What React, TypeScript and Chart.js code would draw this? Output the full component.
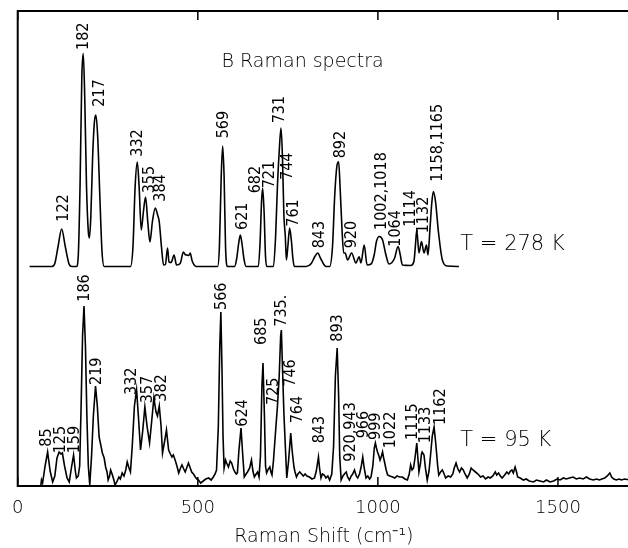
import React, { useEffect, useRef } from "react";
import { Chart, registerables } from "chart.js";

Chart.register(...registerables);

// ---------- data ----------
const xTickValues = [0, 500, 1000, 1500];

// T = 278 K spectrum (intensity above its own baseline)
const upperShift = [
  33, 95, 103, 112, 122, 132, 142, 150, 163, 168, 173, 178, 182, 186, 191, 196, 199, 203, 208, 213, 217, 222, 228, 234, 240,
  313, 320, 326, 332, 337, 343, 349, 355, 361, 367, 374, 382, 388, 393, 399, 405, 410, 416, 420, 426, 434, 441, 451, 460, 465,
  470, 475, 479, 484, 490, 496, 555, 560, 565, 569, 573, 577, 582, 602, 608, 613, 618, 623, 628, 634, 668, 673, 677, 680, 684,
  688, 692, 710, 716, 721, 726, 731, 735, 739, 743, 746, 750, 755, 760, 764, 768, 801, 815, 825, 833, 841, 850, 856, 866, 874,
  880, 886, 891, 895, 900, 905, 909, 916, 927, 939, 948, 953, 962, 970, 981, 990, 996, 1004, 1013, 1022, 1031, 1046, 1056, 1062,
  1068, 1091, 1100, 1104, 1108, 1114, 1121, 1128, 1135, 1139, 1145, 1150, 1154, 1160, 1168, 1179, 1193, 1225,
];
const upperIntensity = [
  0, 0, 3, 20, 37.5, 20, 3, 0, 0, 10, 80, 190, 213, 170, 80, 35, 28.5, 50, 110, 145, 151.5, 130, 70, 15, 0,
  0, 20, 80, 104.5, 80, 36.5, 55, 69.5, 45, 24.5, 45, 58.5, 52, 44.5, 20, 1.5, 2, 18.5, 4.5, 4, 11.5, 1.5, 3, 14.5, 12,
  11.5, 11, 13.5, 6, 1.5, 0, 0, 20, 90, 120.5, 90, 20, 0, 0, 8, 22, 31.5, 22, 8, 0, 0, 25, 65, 78.5, 55,
  10, 0, 0, 30, 79.5, 115, 138.5, 110, 51.5, 30, 6.5, 20, 38.5, 25, 8, 0, 0, 3, 10, 13.5, 8, 2, 0, 0, 20,
  70, 100, 104.8, 80, 40, 13.5, 13.5, 6.5, 13.5, 3.5, 9.8, 3.5, 21.5, 1.5, 2.5, 12, 25, 30, 26.5, 12, 2.5, 8, 20, 12,
  1.5, 1, 5, 20, 36.5, 13.5, 25, 13.5, 21.5, 11.5, 40, 65, 75, 65, 35, 6.5, 0.5, 0,
];
const upperOffset = 219.5;

// T = 95 K spectrum
const lowerShift = [
  64, 66, 69, 76, 83, 90, 97, 103, 109, 115, 120, 124, 130, 137, 143, 149, 155, 160, 163, 168, 172, 176, 180, 184, 188, 192,
  196, 200, 205, 210, 216, 221, 226, 230, 235, 240, 244, 248, 251, 255, 258, 262, 267, 270, 275, 281, 285, 290, 295, 300, 304,
  309, 313, 318, 324, 330, 335, 341, 347, 353, 359, 366, 372, 378, 384, 388, 393, 398, 402, 408, 413, 419, 424, 428, 432, 437,
  442, 447, 452, 456, 461, 465, 470, 474, 479, 483, 488, 493, 497, 502, 508, 515, 522, 530, 537, 543, 548, 552, 557, 561, 564,
  567, 570, 573, 577, 580, 585, 590, 594, 599, 603, 607, 610, 614, 620, 624, 629, 634, 638, 644, 649, 653, 657, 662, 666, 670,
  674, 678, 681, 685, 688, 691, 696, 700, 703, 706, 710, 716, 721, 726, 730, 732, 735, 739, 743, 747, 752, 758, 762, 767, 770,
  774, 778, 783, 788, 793, 798, 803, 810, 817, 824, 829, 835, 838, 842, 846, 851, 856, 861, 866, 872, 877, 882, 887, 891, 894,
  898, 903, 907, 912, 916, 921, 926, 930, 935, 940, 944, 949, 954, 958, 962, 967, 972, 977, 981, 986, 990, 993, 996, 999, 1003,
  1006, 1010, 1013, 1016, 1019, 1023, 1027, 1033, 1041, 1047, 1053, 1060, 1068, 1075, 1082, 1087, 1091, 1095, 1099, 1103, 1108,
  1111, 1114, 1118, 1121, 1123, 1128, 1132, 1137, 1142, 1146, 1151, 1156, 1160, 1163, 1166, 1169, 1174, 1179, 1184, 1188, 1195,
  1202, 1208, 1212, 1217, 1222, 1227, 1232, 1237, 1242, 1248, 1254, 1259, 1264, 1271, 1278, 1285, 1292, 1299, 1306, 1312, 1319,
  1326, 1330, 1335, 1340, 1345, 1352, 1358, 1363, 1368, 1372, 1376, 1381, 1385, 1388, 1395, 1404, 1412, 1420, 1432, 1440, 1450,
  1460, 1468, 1478, 1488, 1497, 1506, 1515, 1523, 1532, 1542, 1551, 1560, 1570, 1579, 1588, 1598, 1607, 1615, 1622, 1630, 1637,
  1644, 1649, 1655, 1662, 1670, 1676, 1685, 1700,
];
const lowerIntensity = [
  0, 6, 3, 20, 34, 15, 4, 10, 28, 34, 32, 33, 20, 8, 4, 18, 31, 15, 8, 10, 20, 80, 150, 180, 140, 70,
  20, 1, 30, 70, 100, 80, 49, 42, 33, 28, 19, 14, 6, 10, 16, 12, 6, 1, 4, 9, 7, 13, 10, 16, 24,
  18, 14, 40, 80, 96, 70, 36, 55, 79, 60, 43, 65, 88, 74, 70, 80, 60, 33, 45, 56, 36, 32, 29, 31, 26,
  20, 13, 18, 21, 17, 14, 19, 23, 18, 14, 12, 9, 7, 6, 3, 5, 7, 8, 6, 9, 12, 16, 60, 140, 174,
  120, 50, 18, 26, 23, 19, 25, 23, 17, 14, 12, 13, 35, 58, 35, 9, 12, 14, 18, 26, 15, 9, 12, 14, 9,
  30, 100, 123, 70, 20, 13, 17, 19, 14, 11, 25, 55, 79, 110, 150, 156, 120, 73, 40, 8, 25, 53, 35, 19, 14,
  9, 12, 14, 12, 10, 12, 10, 9, 7, 8, 15, 29, 18, 8, 12, 11, 8, 10, 6, 12, 40, 110, 138, 90, 30,
  6, 10, 12, 14, 9, 6, 10, 12, 16, 10, 8, 12, 20, 29, 18, 8, 10, 7, 9, 20, 38, 43, 38, 34, 30,
  26, 30, 34, 28, 23, 16, 11, 10, 9, 8, 10, 9, 9, 7, 6, 12, 21, 16, 18, 28, 43,
  28, 14, 22, 32, 34, 31, 18, 6, 15, 30, 50, 59, 45, 33, 20, 11, 14, 16, 12, 8, 10,
  9, 12, 18, 23, 17, 14, 18, 16, 12, 8, 12, 18, 16, 14, 12, 9, 10, 7, 9, 8, 10,
  14, 11, 13, 10, 8, 11, 14, 12, 15, 16, 13, 19, 14, 9, 8, 6, 7, 5, 4, 6, 5,
  4, 6, 4, 5, 7, 6, 8, 7, 8, 9, 7, 8, 7, 9, 7, 6, 7, 6, 7, 8, 10,
  13, 9, 7, 6, 7, 6, 7, 6,
];
const lowerOffset = 0;

// peak labels, upper spectrum (label anchor in shift / intensity units)
const upperLabelText = ["122", "182", "217", "332", "355", "384", "569", "621", "682", "721", "731", "744", "761", "843", "892", "920", "1002,1018", "1064", "1114", "1132", "1158,1165"];
const upperLabelShift = [129, 184, 228, 334, 368, 396, 571, 624, 660, 699, 729, 750, 767, 838, 898, 928, 1011, 1050, 1091, 1128, 1167];
const upperLabelHeight = [44.8, 216.5, 159.8, 109.8, 73.2, 64.8, 128.2, 36.5, 73.2, 78.2, 143.2, 86.5, 39.8, 18.2, 108.2, 18.2, 36.5, 19.8, 39.8, 33.2, 84.8];

// peak labels, lower spectrum
const lowerLabelText = ["85", "125", "159", "186", "219", "332", "357", "382", "566", "624", "685", "725", "735.", "746", "764", "843", "893", "920,943", "966", "999", "1022", "1115", "1133", "1162"];
const lowerLabelShift = [82, 120, 159, 187, 220, 318, 361, 401, 568, 624, 679, 711, 734, 757, 778, 838, 889, 925, 962, 994, 1036, 1096, 1133, 1174];
const lowerLabelHeight = [39.3, 32.7, 32.7, 184.3, 101, 91, 82.7, 84.3, 176, 59.3, 141, 81, 159.3, 99.3, 62.7, 42.7, 144.3, 24.3, 47.7, 46, 37.7, 46, 42.7, 61];

// free text annotations
const noteText = ["B Raman spectra", "T = 278 K", "T = 95 K"];
const noteShift = [566, 1229, 1229];
const noteHeight = [419.3, 236, 40];
const noteSize = [19, 21, 21];

const X_MAX = 1700;
const Y_MAX = 475;
const FONT = "'DejaVu Sans', 'Liberation Sans', sans-serif";
const LABEL_FONT = "'DejaVu Sans Condensed', 'Liberation Sans Narrow', 'DejaVu Sans', sans-serif";
const WEIGHT = 300;

const framePlugin = {
  id: "frame",
  afterDatasetsDraw(chart: any) {
    const { ctx, chartArea, scales } = chart;
    const xs = scales.x;
    const ys = scales.y;
    ctx.save();
    ctx.strokeStyle = "#000";
    ctx.lineWidth = 2;
    ctx.strokeRect(chartArea.left, chartArea.top, chartArea.right - chartArea.left, chartArea.bottom - chartArea.top);
    ctx.lineWidth = 1.5;
    xTickValues.forEach((v) => {
      const px = xs.getPixelForValue(v);
      ctx.beginPath();
      ctx.moveTo(px, chartArea.bottom);
      ctx.lineTo(px, chartArea.bottom - 9);
      ctx.moveTo(px, chartArea.top);
      ctx.lineTo(px, chartArea.top + 9);
      ctx.stroke();
    });

    ctx.fillStyle = "#000";
    // peak labels
    ctx.font = `${WEIGHT} 16px ${LABEL_FONT}`;
    ctx.textAlign = "left";
    ctx.textBaseline = "middle";
    const drawRot = (t: string, x: number, y: number) => {
      const px = xs.getPixelForValue(x);
      const py = ys.getPixelForValue(y);
      ctx.save();
      ctx.translate(px, py);
      ctx.rotate(-Math.PI / 2);
      ctx.fillText(t, 0, 0);
      ctx.restore();
    };
    upperLabelText.forEach((t, i) => drawRot(t, upperLabelShift[i], upperLabelHeight[i] + upperOffset));
    lowerLabelText.forEach((t, i) => drawRot(t, lowerLabelShift[i], lowerLabelHeight[i] + lowerOffset));

    // notes
    ctx.textBaseline = "alphabetic";
    noteText.forEach((t, i) => {
      ctx.font = `${WEIGHT} ${noteSize[i]}px ${FONT}`;
      ctx.fillText(t, xs.getPixelForValue(noteShift[i]), ys.getPixelForValue(noteHeight[i]));
    });
    ctx.restore();
  },
};

export default function App() {
  const ref = useRef<HTMLCanvasElement | null>(null);

  useEffect(() => {
    if (!ref.current) return;
    const upperData = upperShift.map((x, i) => ({ x, y: upperIntensity[i] + upperOffset }));
    const lowerData = lowerShift.map((x, i) => ({ x, y: lowerIntensity[i] + lowerOffset }));
    const chart = new Chart(ref.current, {
      type: "line",
      data: {
        datasets: [
          {
            label: "T = 278 K",
            data: upperData,
            borderColor: "#000",
            borderWidth: 1.6,
            pointRadius: 0,
            fill: false,
            cubicInterpolationMode: "monotone",
          },
          {
            label: "T = 95 K",
            data: lowerData,
            borderColor: "#000",
            borderWidth: 1.6,
            pointRadius: 0,
            fill: false,
            tension: 0,
          },
        ],
      },
      options: {
        animation: false,
        responsive: false,
        events: [],
        layout: { padding: { left: 15, top: 11, right: 30, bottom: 0 } },
        plugins: { legend: { display: false }, tooltip: { enabled: false } },
        scales: {
          x: {
            type: "linear",
            min: 0,
            max: X_MAX,
            afterFit: (s: any) => {
              s.height = 62;
            },
            afterBuildTicks: (s: any) => {
              s.ticks = xTickValues.map((v) => ({ value: v }));
            },
            grid: { display: false, drawTicks: false },
            border: { display: false },
            ticks: {
              color: "#000",
              padding: 12,
              maxRotation: 0,
              font: { family: FONT, size: 18, weight: WEIGHT },
              callback: (v: any) => String(v),
            },
            title: {
              display: true,
              text: "Raman Shift (cm⁻¹)",
              color: "#000",
              font: { family: FONT, size: 19, weight: WEIGHT },
              padding: { top: 0, bottom: 0 },
            },
          },
          y: {
            type: "linear",
            display: false,
            min: 0,
            max: Y_MAX,
          },
        },
      },
      plugins: [framePlugin],
    });
    return () => chart.destroy();
  }, []);

  return (
    <div style={{ position: "fixed", left: 0, top: 0, width: 660, height: 548, background: "#fff" }}>
      <canvas ref={ref} width={660} height={548} style={{ width: 660, height: 548 }} />
    </div>
  );
}
